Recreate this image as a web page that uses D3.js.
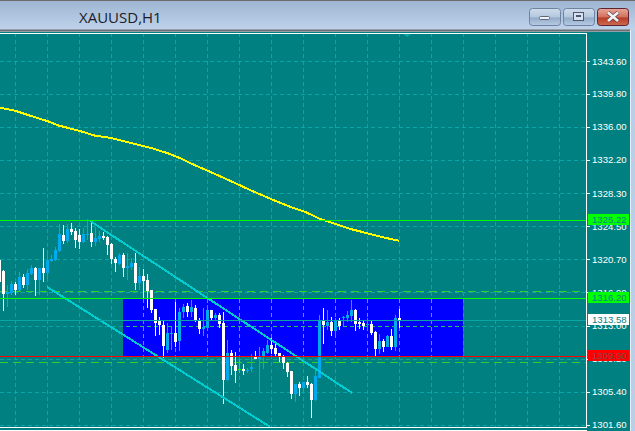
<!DOCTYPE html>
<html><head><meta charset="utf-8">
<script src="https://cdn.jsdelivr.net/npm/d3@7/dist/d3.min.js"></script>
<style>html,body{margin:0;padding:0;background:#b9cfe8;overflow:hidden}svg{display:block}</style>
</head><body><div id="c"></div>
<script>
const chartTitle = "XAUUSD,H1";
const priceTicks = [1343.60,1339.80,1336.00,1332.20,1328.30,1324.50,1320.70,1316.90,1313.00,1309.20,1305.40,1301.60];
const highs = [1320.74,1319.47,1317.73,1318.20,1318.08,1319.24,1319.00,1319.58,1320.04,1319.81,
1319.70,1322.01,1321.78,1321.20,1322.12,1324.78,1324.66,1324.78,1324.89,1324.32,
1324.20,1324.32,1325.36,1325.01,1324.43,1323.97,1323.85,1323.39,1322.58,1320.97,
1321.43,1321.43,1321.43,1320.85,1321.43,1319.81,1319.58,1319.00,1317.16,1314.96,
1314.04,1313.57,1313.34,1312.88,1315.77,1315.08,1315.54,1315.65,1316.00,1315.42,
1313.92,1315.08,1315.42,1314.85,1314.50,1314.50,1314.61,1311.38,1310.23,1310.00,
1309.07,1308.61,1308.15,1309.76,1310.11,1310.57,1310.46,1311.38,1311.61,1311.03,
1309.88,1309.65,1308.84,1307.80,1306.30,1306.53,1306.53,1307.22,1306.42,1307.92,
1314.27,1315.08,1314.85,1314.04,1313.92,1313.92,1314.15,1314.73,1316.00,1314.96,
1313.92,1313.69,1313.92,1313.57,1312.42,1312.07,1311.50,1311.96,1312.65,1314.27,1314.96];
const lows = [1317.96,1314.73,1315.19,1316.58,1316.58,1317.04,1317.39,1317.16,1318.89,1316.46,
1316.58,1318.08,1318.43,1320.39,1320.51,1321.55,1322.47,1322.58,1323.51,1322.01,
1321.89,1322.58,1322.93,1322.12,1322.24,1322.70,1322.93,1321.20,1320.16,1319.24,
1320.04,1318.66,1318.31,1319.47,1317.16,1317.16,1316.23,1315.08,1314.50,1311.84,
1311.96,1309.30,1309.88,1310.23,1310.57,1310.11,1313.92,1314.04,1314.04,1313.46,
1312.07,1311.84,1312.54,1313.57,1313.57,1312.77,1303.99,1306.65,1307.34,1306.42,
1307.57,1307.34,1307.57,1307.69,1309.19,1305.38,1308.03,1309.76,1309.76,1309.42,
1308.84,1308.03,1307.11,1304.57,1304.22,1304.92,1305.38,1305.84,1302.37,1304.34,
1306.99,1310.92,1312.54,1311.84,1311.96,1312.54,1313.00,1313.46,1313.46,1312.42,
1312.65,1312.54,1312.54,1311.96,1309.53,1309.76,1310.00,1310.57,1310.23,1310.11,1312.77];
const opens = [1320.62,1319.35,1316.69,1316.81,1317.85,1317.16,1318.66,1317.73,1319.00,1319.70,
1318.31,1319.70,1319.12,1320.51,1320.62,1321.66,1323.51,1322.82,1324.20,1323.97,
1323.51,1322.70,1323.51,1323.74,1322.70,1323.05,1323.39,1323.28,1322.47,1320.74,
1320.16,1321.20,1319.70,1319.81,1320.28,1317.96,1318.77,1318.31,1317.16,1314.96,
1313.57,1313.11,1310.23,1312.07,1312.19,1311.27,1314.61,1315.31,1314.61,1315.08,
1313.69,1312.65,1312.77,1314.85,1313.92,1314.27,1313.34,1306.76,1309.88,1308.49,
1308.03,1308.03,1307.80,1308.03,1309.42,1309.19,1309.53,1309.88,1310.80,1310.46,
1309.88,1309.53,1308.72,1307.80,1305.15,1306.30,1305.84,1306.53,1306.30,1304.45,
1306.99,1313.57,1313.00,1313.46,1312.42,1313.57,1313.92,1313.92,1314.15,1314.85,
1313.46,1313.34,1313.11,1313.23,1312.30,1310.34,1311.27,1310.57,1311.84,1310.57,1313.92];
const closes = [1318.08,1316.69,1316.92,1317.85,1317.16,1318.66,1317.73,1319.12,1319.70,1318.31,
1319.70,1319.12,1320.62,1320.74,1321.78,1323.62,1322.82,1324.20,1323.85,1322.93,
1322.70,1323.62,1323.62,1322.70,1323.16,1323.39,1323.16,1322.35,1320.74,1320.28,
1321.20,1319.70,1319.93,1320.28,1317.96,1318.77,1318.20,1317.04,1314.85,1313.34,
1313.11,1310.69,1312.19,1312.19,1311.15,1314.61,1315.19,1314.61,1315.19,1313.57,
1312.65,1312.88,1314.85,1313.92,1314.27,1313.23,1306.76,1309.88,1308.38,1307.80,
1308.03,1307.80,1307.92,1308.26,1309.19,1309.53,1310.11,1310.80,1310.34,1309.76,
1309.42,1308.72,1307.69,1305.15,1306.30,1305.84,1306.53,1306.18,1304.45,1307.22,
1313.57,1313.11,1313.46,1312.42,1313.57,1313.00,1314.04,1314.27,1314.85,1313.23,
1313.23,1313.00,1313.23,1312.19,1310.34,1311.27,1310.57,1311.84,1310.57,1313.92,1313.57];
const maIndex = [0,4,8,12,15,20,24,28,33,38,42,45.25,47.75,50.25,54,58.25,62.75,67.75,72.75,76.5,80.25,84,87.75,92.75,96.5,100];
const maValues = [1338.22,1337.86,1337.25,1336.67,1336.13,1335.55,1334.97,1334.71,1334.13,1333.55,1332.97,1332.39,1331.81,1331.30,1330.55,1329.66,1328.70,1327.70,1326.76,1326.18,1325.36,1324.78,1324.20,1323.62,1323.18,1322.83];
const channelIndex = [[22.75,88.25],[12,67.75]];
const channelPrices = [[1325.12,1305.25],[1317.50,1301.33]];
const solidLevels = [1325.22,1316.20];
const dashedLevels = [1317.08,1308.84];
const bidPrice = 1313.58;
const supportPrice = 1309.50;
const boxIndex = [31,116];
const boxPrices = [1316.20,1309.50];
const vGridIndex = d3.range(4,141,8);
const priceTags = [
  {p:1325.22,bg:"#00ff00",fg:"#0a7f80"},
  {p:1316.20,bg:"#00ff00",fg:"#0a7f80"},
  {p:1313.58,bg:"#ffffff",fg:"#0a7f80"},
  {p:1309.50,bg:"#ff0000",fg:"#7f4a4a"}];

const W=635,H=431,plotR=586,plotT=33,plotB=427;
const x=d3.scaleLinear().domain([0,100]).range([-1,399]);
const y=d3.scaleLinear().domain([1301.6,1343.6]).range([424.5,61]);
const UP="#00aaee",DOWN="#ffffff",DOJI="#00ff00",TEAL="#008080",GRID="#0aa5a5",GRID2="#1fc46a";
const FONT="'Liberation Sans',Arial,sans-serif";
const row=p=>Math.floor(y(p))+.5;

const svg=d3.select("#c").append("svg").attr("width",W).attr("height",H);
const defs=svg.append("defs");
const g1=defs.append("linearGradient").attr("id","tb").attr("x2",0).attr("y2",1);
g1.append("stop").attr("offset",0).attr("stop-color","#9db5d2");
g1.append("stop").attr("offset",1).attr("stop-color","#bfd3eb");
const g2=defs.append("linearGradient").attr("id","btn").attr("x2",0).attr("y2",1);
g2.append("stop").attr("offset",0).attr("stop-color","#cfdcec");
g2.append("stop").attr("offset",.5).attr("stop-color","#b4c7de");
g2.append("stop").attr("offset",.55).attr("stop-color","#93abc9");
g2.append("stop").attr("offset",1).attr("stop-color","#b8cbe2");
const g3=defs.append("linearGradient").attr("id","cls").attr("x2",0).attr("y2",1);
g3.append("stop").attr("offset",0).attr("stop-color","#e9a797");
g3.append("stop").attr("offset",.5).attr("stop-color","#d0705c");
g3.append("stop").attr("offset",.55).attr("stop-color","#b83c28");
g3.append("stop").attr("offset",1).attr("stop-color","#cf6a50");
defs.append("clipPath").attr("id","plot").append("rect").attr("x",0).attr("y",plotT).attr("width",plotR).attr("height",plotB-plotT);

// window chrome
svg.append("rect").attr("width",W).attr("height",H).attr("fill","#b9cfe8");
svg.append("rect").attr("width",W).attr("height",30).attr("fill","url(#tb)");
svg.append("rect").attr("width",W).attr("height",1).attr("fill","#6d6d6d");
svg.append("rect").attr("y",29.5).attr("width",630).attr("height",2).attr("fill","#6e6e6e");
svg.append("rect").attr("x",630).attr("y",30).attr("width",1).attr("height",H-30).attr("fill","#e6eef7");
svg.append("text").attr("x",79).attr("y",22.5).attr("font-family","'Open Sans',sans-serif").attr("font-size",15).attr("fill","#1c1c28").text(chartTitle);
const btns=[[529.5,"url(#btn)","#6d83a2"],[563.5,"url(#btn)","#6d83a2"],[597.5,"url(#cls)","#5c2436"]];
btns.forEach(b=>svg.append("rect").attr("x",b[0]).attr("y",8.5).attr("width",31).attr("height",17).attr("rx",3).attr("fill",b[1]).attr("stroke",b[2]));
svg.append("rect").attr("x",539.5).attr("y",16.5).attr("width",10).attr("height",3).attr("rx",1).attr("fill","#f1f3f6").attr("stroke","#5c6a80");
svg.append("rect").attr("x",573.5).attr("y",12.5).attr("width",10).attr("height",8).attr("fill","#d7e0ec").attr("stroke","#4a5770");
svg.append("rect").attr("x",576).attr("y",15).attr("width",5).attr("height",2).attr("fill","#4a5770");
svg.append("path").attr("d","M608 12.5L618 21M618 12.5L608 21").attr("stroke","#5a3b45").attr("stroke-width",4.2);
svg.append("path").attr("d","M608 12.5L618 21M618 12.5L608 21").attr("stroke","#f2f2f2").attr("stroke-width",2.8);

// panel
svg.append("rect").attr("y",32).attr("width",630).attr("height",H-32).attr("fill",TEAL);
const chart=svg.append("g").attr("clip-path","url(#plot)").attr("shape-rendering","crispEdges");

// box
chart.append("rect").attr("x",x(boxIndex[0])).attr("width",x(boxIndex[1])-x(boxIndex[0]))
  .attr("y",y(boxPrices[0])).attr("height",y(boxPrices[1])-y(boxPrices[0])).attr("fill","#0000ff");

// grid
const grid=chart.append("g").attr("fill","none");
function drawGrid(g,color){
  g.selectAll("line.h").data(priceTicks).join("line").attr("class","h").attr("x1",0).attr("x2",plotR)
    .attr("y1",d=>Math.round(y(d))+.5).attr("y2",d=>Math.round(y(d))+.5).attr("stroke",color).attr("stroke-dasharray","4 3");
  g.selectAll("line.v").data(vGridIndex).join("line").attr("class","v").attr("y1",plotT).attr("y2",plotB)
    .attr("x1",d=>x(d)+.5).attr("x2",d=>x(d)+.5).attr("stroke",color).attr("stroke-dasharray","4 3");
}
drawGrid(grid.append("g"),GRID);
defs.append("clipPath").attr("id","boxc").append("rect").attr("x",x(boxIndex[0])).attr("width",x(boxIndex[1])-x(boxIndex[0]))
  .attr("y",y(boxPrices[0])).attr("height",y(boxPrices[1])-y(boxPrices[0]));
drawGrid(chart.append("g").attr("clip-path","url(#boxc)").attr("fill","none"),GRID2);

// dashed levels
chart.selectAll("line.d").data(dashedLevels).join("line").attr("class","d").attr("x1",0).attr("x2",plotR)
  .attr("y1",d=>Math.round(y(d))+.5).attr("y2",d=>Math.round(y(d))+.5).attr("stroke","#32cd32").attr("stroke-dasharray","8 5");

// moving average
const maLine=d3.line().x((d,i)=>x(maIndex[i])).y(d=>y(d));
chart.append("path").attr("d",maLine(maValues)).attr("fill","none").attr("stroke","#ffff00").attr("stroke-width",2);

// candles
const idx=d3.range(highs.length);
const col=i=>closes[i]>opens[i]?UP:closes[i]<opens[i]?DOWN:DOJI;
chart.selectAll("rect.w").data(idx).join("rect").attr("class","w").attr("x",i=>x(i)).attr("width",1)
  .attr("y",i=>y(highs[i])).attr("height",i=>y(lows[i])-y(highs[i])).attr("fill",col);
chart.selectAll("rect.b").data(idx).join("rect").attr("class","b").attr("x",i=>x(i)-1).attr("width",3)
  .attr("y",i=>y(Math.max(opens[i],closes[i]))).attr("height",i=>Math.max(1,Math.abs(y(opens[i])-y(closes[i])))).attr("fill",col);

// channel
channelIndex.forEach((ci,k)=>{
  chart.append("line").attr("x1",x(ci[0])).attr("x2",x(ci[1])).attr("y1",y(channelPrices[k][0])).attr("y2",y(channelPrices[k][1]))
    .attr("stroke","#00ced1").attr("stroke-width",2);
});

// horizontal levels
chart.selectAll("line.s").data(solidLevels).join("line").attr("class","s").attr("x1",0).attr("x2",plotR)
  .attr("y1",d=>row(d)).attr("y2",d=>row(d)).attr("stroke","#00ff00").attr("stroke-width",1);
chart.append("line").attr("x1",0).attr("x2",plotR).attr("y1",row(bidPrice)).attr("y2",row(bidPrice)).attr("stroke","#0aa5a5");
chart.append("line").attr("x1",0).attr("x2",plotR).attr("y1",row(supportPrice)).attr("y2",row(supportPrice)).attr("stroke","#ff0000");

// top marker
svg.append("path").attr("d","M403 34H411L407 37Z").attr("fill","#0aa5a5");

// frame
const fr=svg.append("g").attr("shape-rendering","crispEdges").attr("stroke","#fff").attr("fill","none");
fr.append("path").attr("d",`M0 ${plotT+.5}H${plotR+.5}V${plotB+.5}H0`);
fr.append("path").attr("d",`M0 430.5H${plotR+.5}`);

// axis
const axis=svg.append("g").attr("transform",`translate(${plotR},0)`)
  .call(d3.axisRight(y).tickValues(priceTicks).tickSize(4).tickPadding(2).tickFormat(d=>d.toFixed(2)));
axis.select(".domain").remove();
axis.selectAll("line").attr("stroke","#fff").attr("shape-rendering","crispEdges");
axis.selectAll("text").attr("fill","#fff").attr("font-family",FONT).attr("font-size",9.6);

// tags
const tags=svg.selectAll("g.tag").data(priceTags).join("g").attr("class","tag");
tags.append("rect").attr("x",588).attr("width",41).attr("y",d=>Math.floor(y(d.p))-6).attr("height",11).attr("fill",d=>d.bg);
tags.append("text").attr("x",592).attr("y",d=>Math.floor(y(d.p))+3).attr("font-family",FONT).attr("font-size",9.6).attr("fill",d=>d.fg).text(d=>d.p.toFixed(2));
</script></body></html>
